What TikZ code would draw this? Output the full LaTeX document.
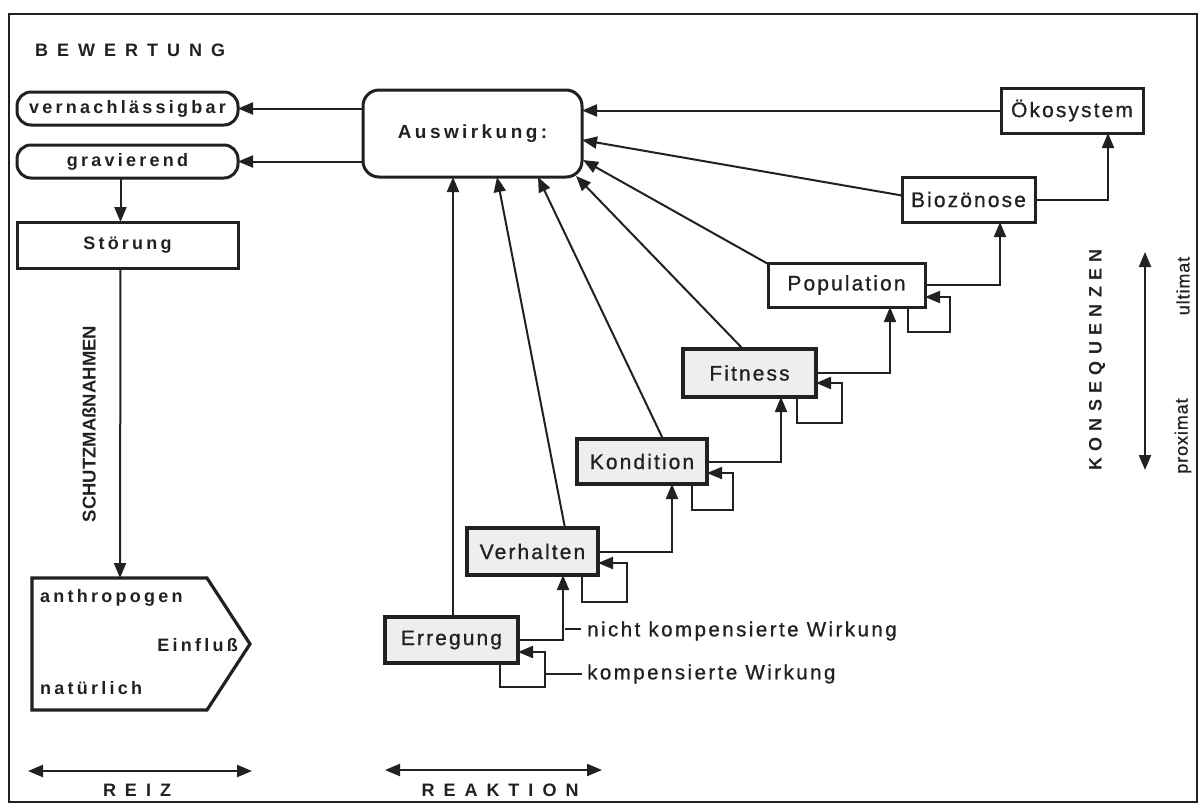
\documentclass[tikz,border=0pt]{standalone}
\usepackage{fontspec}
\setmainfont{Liberation Sans}
\newfontfamily\fstair{Liberation Sans}[LetterSpace=10,FakeBold=0.8]
\newfontfamily\fbold{Liberation Sans}[LetterSpace=18]
\newfontfamily\fcaps{Liberation Sans}[LetterSpace=50]
\newfontfamily\fkons{Liberation Sans}[LetterSpace=35]
\newfontfamily\fsmall{Liberation Sans}[LetterSpace=12,FakeBold=0.8]
\newfontfamily\frot{Liberation Sans}[LetterSpace=5,FakeBold=0.6]
\usetikzlibrary{arrows.meta,calc}
\definecolor{ink}{gray}{0.13}
\tikzset{
  arr/.style={-{Triangle[length=15pt,width=12pt]}, line width=2pt, draw=ink},
  darr/.style={{Triangle[length=15pt,width=12pt]}-{Triangle[length=15pt,width=12pt]}, line width=2.2pt, draw=ink},
  line/.style={line width=2pt, draw=ink},
  box/.style={draw=ink, line width=3pt, fill=white, inner sep=0pt, outer sep=0pt, text=ink,
              font=\fstair\fontsize{21}{24}\selectfont},
  stip/.style={box, fill=gray!13, line width=3.8pt},
  rbox/.style={draw=ink, line width=3pt, rounded corners=14pt, inner sep=0pt, outer sep=0pt, text=ink,
               font=\fbold\bfseries\fontsize{18}{21}\selectfont},
  btext/.style={text=ink, inner sep=0pt, font=\fbold\bfseries\fontsize{18}{21}\selectfont},
  ctext/.style={text=ink, inner sep=0pt, font=\fcaps\bfseries\fontsize{18}{21}\selectfont},
  stext/.style={text=ink, inner sep=0pt, font=\fsmall\fontsize{20.5}{23}\selectfont},
  rtext/.style={text=ink, inner sep=0pt, rotate=90, font=\frot\fontsize{18}{21}\selectfont},
}
\begin{document}
\begin{tikzpicture}[x=1pt,y=-1pt]
\useasboundingbox[fill=white] (0,0) rectangle (1202,807);
\draw[line width=2.2pt, draw=ink] (9,14) rectangle (1197,802);

% left column
\node[ctext, anchor=west] (bew) at (35,50) {BEWERTUNG};
\node[rbox, minimum width=221pt, minimum height=33pt] (ver) at (127.5,108.5) {vernachlässigbar};
\node[rbox, minimum width=221pt, minimum height=33pt] (grav) at (127.5,161.5) {gravierend};
\node[box, font=\fbold\bfseries\fontsize{18}{21}\selectfont, minimum width=221pt, minimum height=46pt] (stoer) at (127.5,245) {Störung};
\node[text=ink, inner sep=0pt, rotate=90, font=\bfseries\fontsize{18.5}{21}\selectfont] (schutz) at (89,424) {SCHUTZMAßNAHMEN};

% pentagon (Einfluss)
\node[minimum width=218pt, minimum height=132pt, inner sep=0pt, outer sep=0pt] (einfl) at (141,644) {};
\draw[draw=ink, line width=3.2pt, line join=miter]
  (einfl.north west) -- ($(einfl.north east)+(-43,0)$) -- (einfl.east)
  -- ($(einfl.south east)+(-43,0)$) -- (einfl.south west) -- cycle;
\node[btext, anchor=west] (anth) at (40,598) {anthropogen};
\node[btext, anchor=east] (einf) at (238,645) {Einfluß};
\node[btext, anchor=west] (nat) at (40,688) {natürlich};

% bottom axes
\coordinate (reizL) at (28,771);
\coordinate (reizR) at (252,771);
\draw[darr] (reizL) -- (reizR);
\node[ctext] (reiz) at (137,790) {REIZ};
\coordinate (reakL) at (385,770);
\coordinate (reakR) at (602,770);
\draw[darr] (reakL) -- (reakR);
\node[ctext] (reak) at (500,790) {REAKTION};

% right axis
\coordinate (konsT) at (1145,252);
\coordinate (konsB) at (1145,470);
\draw[darr] (konsB) -- (konsT);
\node[text=ink, inner sep=0pt, rotate=90, font=\fkons\bfseries\fontsize{18}{21}\selectfont] (kons) at (1097,360) {KONSEQUENZEN};
\node[rtext] (ult) at (1183,286) {ultimat};
\node[rtext] (prox) at (1183,436) {proximat};

% Auswirkung
\node[rbox, rounded corners=16pt, font=\fbold\bfseries\fontsize{19}{22}\selectfont, minimum width=219pt, minimum height=87pt] (aus) at (472.5,133.5) {Auswirkung:};

% staircase
\node[box, minimum width=142pt, minimum height=45pt] (oko) at (1072,110.5) {Ökosystem};
\node[box, minimum width=133pt, minimum height=45pt] (bio) at (968.5,199.5) {Biozönose};
\node[box, minimum width=157pt, minimum height=44pt] (pop) at (846.5,285) {Population};
\node[stip, minimum width=133pt, minimum height=48pt] (fit) at (749.5,373) {Fitness};
\node[stip, line width=3.2pt, minimum width=130pt, minimum height=45pt] (kon) at (642,461.5) {Kondition};
\node[stip, minimum width=131pt, minimum height=47pt] (verh) at (532.5,551.5) {Verhalten};
\node[stip, minimum width=133pt, minimum height=46pt] (err) at (451.5,640) {Erregung};

% Auswirkung -> Bewertung
\draw[arr] (aus.west |- ver.east) -- (ver.east);
\draw[arr] (aus.west |- grav.east) -- (grav.east);
\draw[arr] ($(grav.south)+(-7,0)$) -- ($(stoer.north)+(-7,0)$);
\draw[arr] ($(stoer.south)+(-7,0)$) -- ($(einfl.north west)+(88,0)$);

% consequences -> Auswirkung
\draw[arr] (oko.west) -- (aus.east |- oko.west);
\draw[arr] ($(bio.west)+(0,-4)$) -- ($(aus.north east)+(0,50)$);
\draw[arr] ($(pop.north west)+(2,2)$) -- ($(aus.north east)+(1,70)$);
\draw[arr] ($(fit.north west)+(60,0)$) -- ($(aus.south east)+(-6,-1)$);
\draw[arr] ($(kon.north west)+(86,0)$) -- ($(aus.south west)+(175,0)$);
\draw[arr] ($(verh.north west)+(98,0)$) -- ($(aus.south west)+(134,0)$);
\draw[arr] ($(err.north west)+(68,0)$) -- ($(aus.south west)+(90,0)$);

% steps upward
\draw[arr] (err.east) -| ($(verh.south west)+(96,0)$);
\draw[arr] (verh.east) -| ($(kon.south west)+(95,0)$);
\draw[arr] (kon.east) -| ($(fit.south west)+(98,0)$);
\draw[arr] (fit.east) -| ($(pop.south west)+(122,0)$);
\draw[arr] (pop.east) -| ($(bio.south west)+(98,0)$);
\draw[arr] (bio.east) -| ($(oko.south west)+(107,0)$);

% self loops
\draw[arr] ($(err.south east)+(-18,0)$) -- ++(0,24) -| ($(err.east)+(27,12)$) -- ($(err.east)+(0,12)$);
\draw[arr] ($(verh.south east)+(-16,0)$) -- ++(0,27) -| ($(verh.east)+(29,11.5)$) -- ($(verh.east)+(0,11.5)$);
\draw[arr] ($(kon.south east)+(-15,0)$) -- ++(0,26) -| ($(kon.east)+(26,11.5)$) -- ($(kon.east)+(0,11.5)$);
\draw[arr] ($(fit.south east)+(-19,0)$) -- ++(0,26) -| ($(fit.east)+(26,10)$) -- ($(fit.east)+(0,10)$);
\draw[arr] ($(pop.south east)+(-17,0)$) -- ++(0,25) -| ($(pop.east)+(25,12)$) -- ($(pop.east)+(0,12)$);

% legend labels
\node[stext, anchor=west] (nk) at (587,631) {nicht kompensierte Wirkung};
\coordinate (nkt) at (565,629);
\draw[line] (nkt) -- ($(nk.west)+(-6,-2)$);
\node[stext, anchor=west] (kw) at (587,674) {kompensierte Wirkung};
\coordinate (kwt) at (546,674);
\draw[line] (kwt) -- ($(kw.west)+(-5,0)$);
\end{tikzpicture}
\end{document}
